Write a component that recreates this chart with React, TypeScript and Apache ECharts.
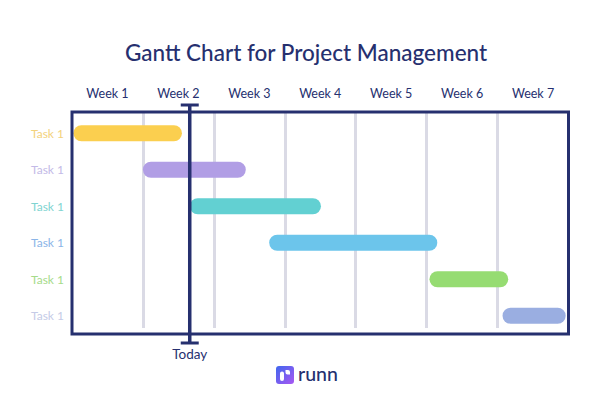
import React, { useEffect, useRef } from "react";
import * as echarts from "echarts";

const titleText = "Gantt Chart for Project Management";
const weeks = ["Week 1", "Week 2", "Week 3", "Week 4", "Week 5", "Week 6", "Week 7"];
const tasks = ["Task 1", "Task 1", "Task 1", "Task 1", "Task 1", "Task 1"];
const taskStarts = [0.02, 1.0, 1.66, 2.78, 5.04, 6.07];
const taskEnds = [1.55, 2.45, 3.51, 5.15, 6.15, 6.96];
const barColors = ["#FBCF4F", "#B19EE5", "#62D0D2", "#6CC5EB", "#96DC72", "#9AAEE1"];
const labelColors = ["#F3D27C", "#C3BAE7", "#7FD4D1", "#8BB5E8", "#A6DB8A", "#C5CBE7"];
const todayValue = 1.66;
const todayLabel = "Today";
const brandText = "runn";

const NAVY = "#26306F";
const FONT = "Lato, 'Noto Sans', sans-serif";

echarts.graphic.registerShape(
  "runnMark",
  echarts.graphic.extendPath(
    "M4 7.5 Q4 5.5 6 5.5 Q8 5.5 8 7.5 L8 13 Q8 15 6 15 Q4 15 4 13 Z M9.5 4 L12 4 Q14 4 14 6 L14 8.5 L11.5 8.5 Q9.5 8.5 9.5 6.5 Z",
    {}
  )
);

export default function App() {
  const ref = useRef<HTMLDivElement>(null);

  useEffect(() => {
    if (!ref.current) return;
    const chart = echarts.init(ref.current, null, { renderer: "svg" });
    const durations = taskEnds.map((e, i) => e - taskStarts[i]);

    chart.setOption({
      animation: false,
      backgroundColor: "#ffffff",
      title: {
        text: titleText,
        left: "center",
        top: 36,
        textStyle: { color: NAVY, fontSize: 22.5, fontWeight: 500, fontFamily: FONT },
      },
      grid: [
        { left: 72, right: 43.5, top: 112, bottom: 74, show: true, borderColor: NAVY, borderWidth: 3, backgroundColor: "transparent", z: 5 },
        { left: 72, right: 43.5, top: 112, bottom: 80, show: false },
        { left: 72, right: 43.5, top: 115, bottom: 74, show: false },
      ],
      xAxis: [
        {
          gridIndex: 0,
          type: "category",
          data: weeks,
          position: "top",
          axisLine: { show: false },
          axisTick: { show: false },
          splitLine: { show: false },
          axisLabel: { color: NAVY, fontSize: 12.5, fontFamily: FONT, margin: 12 },
        },
        {
          gridIndex: 1,
          type: "category",
          data: weeks,
          position: "top",
          axisLine: { show: false },
          axisTick: { show: false },
          axisLabel: { show: false },
          splitLine: {
            show: true,
            showMinLine: false,
            showMaxLine: false,
            lineStyle: { color: "#DADAE5", width: 3 },
          },
        },
        {
          gridIndex: 2,
          type: "value",
          min: 0,
          max: 7,
          show: false,
        },
      ],
      yAxis: [
        { gridIndex: 0, type: "value", show: false },
        { gridIndex: 1, type: "value", show: false },
        {
          gridIndex: 2,
          type: "category",
          data: tasks,
          inverse: true,
          axisLine: { show: false },
          axisTick: { show: false },
          splitLine: { show: false },
          axisLabel: {
            fontSize: 12,
            fontFamily: FONT,
            margin: 8,
            color: (_v: any, i: number) => labelColors[i],
          },
        },
      ],
      series: [
        {
          type: "bar",
          xAxisIndex: 2,
          yAxisIndex: 2,
          stack: "gantt",
          data: taskStarts,
          itemStyle: { color: "transparent" },
          barWidth: 16,
          silent: true,
        },
        {
          type: "bar",
          xAxisIndex: 2,
          yAxisIndex: 2,
          stack: "gantt",
          barWidth: 16,
          data: durations.map((d, i) => ({
            value: d,
            itemStyle: { color: barColors[i], borderRadius: 8 },
          })),
        },
        {
          type: "custom",
          xAxisIndex: 2,
          yAxisIndex: 2,
          z: 10,
          data: [[todayValue, 0]],
          renderItem: (params: any, api: any) => {
            const x = api.coord([api.value(0), 0])[0];
            const cs = params.coordSys;
            const top = cs.y - 10;
            const bottom = cs.y + cs.height + 9;
            return {
              type: "group",
              children: [
                { type: "line", shape: { x1: x, y1: top, x2: x, y2: bottom }, style: { stroke: NAVY, lineWidth: 3.5 } },
                { type: "rect", shape: { x: x - 9, y: top - 1.5, width: 18, height: 3 }, style: { fill: NAVY } },
                { type: "rect", shape: { x: x - 9, y: bottom - 1.5, width: 18, height: 3 }, style: { fill: NAVY } },
                {
                  type: "text",
                  style: {
                    text: todayLabel,
                    x: x,
                    y: bottom + 11,
                    align: "center",
                    verticalAlign: "middle",
                    fill: NAVY,
                    fontSize: 13.5,
                    fontFamily: FONT,
                  },
                },
              ],
            };
          },
        },
      ],
      graphic: [
        {
          type: "group",
          left: 276,
          top: 366,
          children: [
            {
              type: "rect",
              shape: { x: 0, y: 0, width: 18, height: 18, r: 3 },
              style: {
                fill: new echarts.graphic.LinearGradient(0, 0, 1, 1, [
                  { offset: 0, color: "#3F67EE" },
                  { offset: 1, color: "#A957F2" },
                ]),
              },
            },
            { type: "runnMark", x: 0, y: 0, style: { fill: "#ffffff" } },
          ],
        },
        {
          type: "text",
          left: 298,
          top: 363,
          style: { text: brandText, fill: NAVY, fontSize: 19.5, fontWeight: 500, fontFamily: FONT },
        },
      ],
    });

    return () => chart.dispose();
  }, []);

  return <div ref={ref} style={{ width: 612, height: 408, position: "absolute", left: 0, top: 0 }} />;
}
